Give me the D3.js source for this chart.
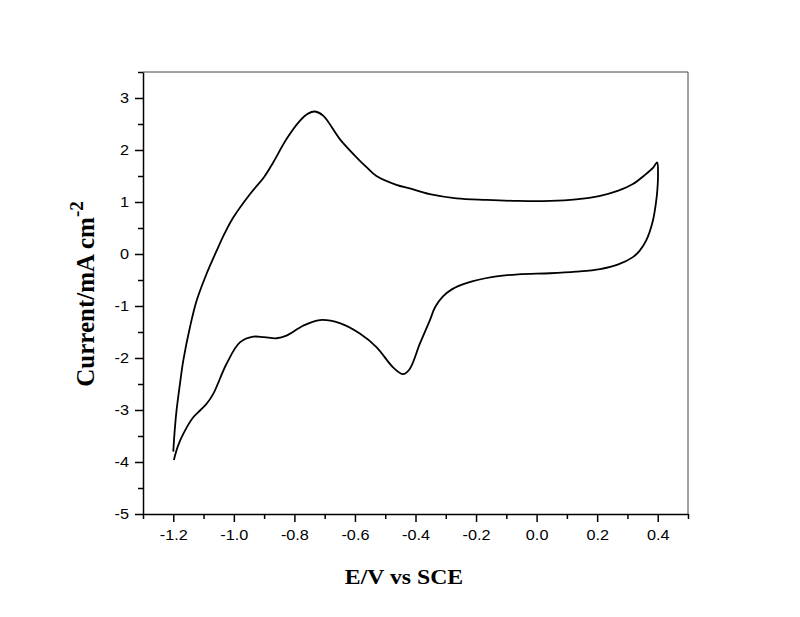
<!DOCTYPE html>
<html>
<head>
<meta charset="utf-8">
<script src="https://cdn.jsdelivr.net/npm/d3@7"></script>
<style>
  body { margin: 0; background: #fff; }
  .title { font-family: "Times New Roman", "Liberation Serif", serif; font-weight: bold; fill: #000; }
</style>
</head>
<body>
<div id="chart"></div>
<script>
// anodic sweep, -1.2 V -> 0.4 V  [E (V), I (mA cm-2)]
var forwardScan = [
  [-1.200,-3.80],[-1.196,-3.45],[-1.190,-3.05],[-1.178,-2.50],[-1.167,-2.05],[-1.145,-1.41],
  [-1.123,-0.90],[-1.090,-0.38],[-1.057,0.06],[-1.030,0.40],[-1.002,0.70],[-0.947,1.15],
  [-0.900,1.48],[-0.870,1.76],[-0.826,2.21],[-0.782,2.56],[-0.755,2.70],[-0.732,2.74],
  [-0.705,2.66],[-0.650,2.21],[-0.595,1.86],[-0.560,1.66],[-0.529,1.50],[-0.463,1.33],
  [-0.419,1.26],[-0.353,1.15],[-0.265,1.07],[-0.166,1.04],[-0.061,1.02],[0.044,1.02],
  [0.130,1.05],[0.210,1.12],[0.270,1.22],[0.318,1.345],[0.362,1.54],[0.385,1.66],[0.398,1.76]
];
// cathodic sweep, 0.4 V -> -1.2 V
var reverseScan = [
  [0.401,1.54],[0.399,1.25],[0.395,1.02],[0.384,0.64],[0.362,0.26],[0.340,0.06],
  [0.318,-0.06],[0.270,-0.20],[0.210,-0.29],[0.130,-0.34],[0.044,-0.37],[-0.061,-0.39],
  [-0.144,-0.44],[-0.232,-0.56],[-0.280,-0.68],[-0.310,-0.82],[-0.335,-1.02],[-0.353,-1.28],
  [-0.386,-1.73],[-0.419,-2.21],[-0.441,-2.31],[-0.474,-2.18],[-0.529,-1.79],[-0.584,-1.53],
  [-0.650,-1.33],[-0.716,-1.27],[-0.771,-1.38],[-0.826,-1.57],[-0.859,-1.62],[-0.900,-1.60],
  [-0.936,-1.59],[-0.980,-1.70],[-1.024,-2.11],[-1.068,-2.69],[-1.090,-2.88],[-1.110,-3.00],
  [-1.134,-3.14],[-1.167,-3.46],[-1.185,-3.70],[-1.198,-3.96]
];

var xTicks = [-1.2, -1.0, -0.8, -0.6, -0.4, -0.2, 0.0, 0.2, 0.4];
var xMinor = [-1.3, -1.1, -0.9, -0.7, -0.5, -0.3, -0.1, 0.1, 0.3, 0.5];
var yTicks = [-5, -4, -3, -2, -1, 0, 1, 2, 3];
var yMinor = [-4.5, -3.5, -2.5, -1.5, -0.5, 0.5, 1.5, 2.5, 3.5];

var width = 800, height = 617;
var mLeft = 143, mRight = 688, mTop = 72, mBottom = 514;

var svg = d3.select("#chart").append("svg")
  .attr("width", width)
  .attr("height", height);

var x = d3.scaleLinear().domain([-1.3, 0.5]).range([mLeft, mRight]);
var y = d3.scaleLinear().domain([-5, 3.5]).range([mBottom, mTop]);

// plain hyphen minus like the original, not the unicode one
function fmtX(d) { return d.toFixed(1).replace("\u2212", "-"); }
function fmtY(d) { return String(d); }

// top / right frame
svg.append("path")
  .attr("d", "M" + mLeft + "," + mTop + "H" + mRight + "V" + mBottom)
  .attr("fill", "none")
  .attr("stroke", "#444")
  .attr("stroke-width", 1);

// original picture is a bit wider than tall, so widen glyphs a little
function widen(sel, k) {
  sel.each(function() {
    var w = this.getComputedTextLength();
    d3.select(this).attr("textLength", w * k).attr("lengthAdjust", "spacingAndGlyphs");
  });
}

function styleAxis(g) {
  g.selectAll("line").attr("stroke-width", 1.5);
  g.select(".domain").attr("stroke-width", 1.5);
  g.selectAll("text")
    .style("font-family", "Arial, 'Liberation Sans', sans-serif")
    .style("font-size", "14.5px")
    .attr("fill", "#000")
    .call(widen, 1.12);
}

// minor ticks
svg.append("g")
  .attr("transform", "translate(0," + mBottom + ")")
  .call(d3.axisBottom(x).tickValues(xMinor).tickSize(5).tickFormat(""))
  .call(function(g) { g.select(".domain").remove(); })
  .selectAll("line").attr("stroke-width", 1.5);

svg.append("g")
  .attr("transform", "translate(" + mLeft + ",0)")
  .call(d3.axisLeft(y).tickValues(yMinor).tickSize(5).tickFormat(""))
  .call(function(g) { g.select(".domain").remove(); })
  .selectAll("line").attr("stroke-width", 1.5);

// major ticks + labels
svg.append("g")
  .attr("transform", "translate(0," + mBottom + ")")
  .call(d3.axisBottom(x).tickValues(xTicks).tickSize(8).tickPadding(8).tickFormat(fmtX).tickSizeOuter(0))
  .call(styleAxis);

svg.append("g")
  .attr("transform", "translate(" + mLeft + ",0)")
  .call(d3.axisLeft(y).tickValues(yTicks).tickSize(8).tickPadding(6).tickFormat(fmtY).tickSizeOuter(0))
  .call(styleAxis);

// the voltammogram
var line = d3.line()
  .x(function(d) { return x(d[0]); })
  .y(function(d) { return y(d[1]); })
  .curve(d3.curveCatmullRom.alpha(0.5));

svg.append("path")
  .datum(forwardScan.concat(reverseScan))
  .attr("d", line)
  .attr("fill", "none")
  .attr("stroke", "#000")
  .attr("stroke-width", 1.8)
  .attr("stroke-linejoin", "round");

// axis titles
svg.append("text")
  .attr("class", "title")
  .attr("x", 404)
  .attr("y", 584)
  .attr("text-anchor", "middle")
  .style("font-size", "21px")
  .text("E/V vs SCE")
  .call(widen, 1.13);

var yt = svg.append("text")
  .attr("class", "title")
  .attr("transform", "translate(94,294) rotate(-90)")
  .attr("text-anchor", "middle")
  .style("font-size", "25px");
yt.append("tspan").text("Current/mA cm");
yt.append("tspan").attr("dy", -11).style("font-size", "19px").text("-2");
</script>
</body>
</html>
